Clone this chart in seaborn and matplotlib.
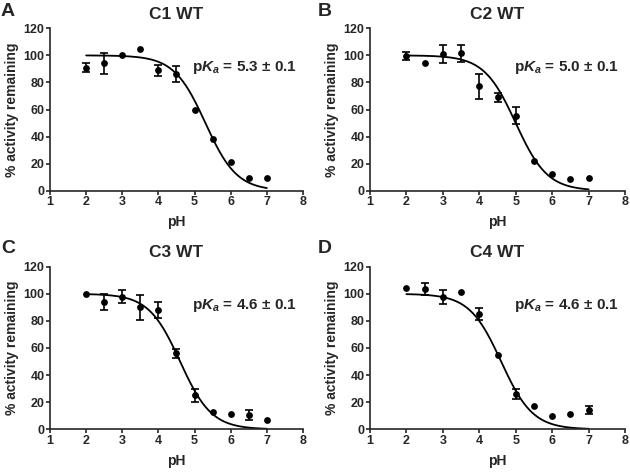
import numpy as np
import seaborn as sns
import matplotlib.pyplot as plt

sns.set_style('ticks')
plt.rcParams['font.family'] = ['Liberation Sans', 'DejaVu Sans']
plt.rcParams['font.weight'] = 'bold'
plt.rcParams['mathtext.fontset'] = 'custom'
plt.rcParams['mathtext.it'] = 'Liberation Sans:italic:bold'
plt.rcParams['mathtext.rm'] = 'Liberation Sans:bold'

ph = [2, 2.5, 3, 3.5, 4, 4.5, 5, 5.5, 6, 6.5, 7]

# values
c1_act = [91, 94, 100, 104.5, 89, 86, 59.5, 38.5, 21, 9.5, 9.5]
c1_err = [3, 8, 0, 0, 4, 6, 0, 0, 0, 0, 0]
c2_act = [99.5, 94, 101, 101.5, 77, 69, 55.5, 22, 12, 8.5, 9.5]
c2_err = [3, 0, 6.5, 6.5, 9.5, 3.5, 6, 0, 0, 0, 0]
c3_act = [100, 94, 98, 90, 88, 56, 25, 12.5, 11.5, 10.5, 7]
c3_err = [0, 6, 5, 9, 6, 3.5, 5, 0, 0, 3.5, 0]
c4_act = [104, 103.5, 97.5, 101, 85, 54.5, 26, 17, 9.5, 11, 14]
c4_err = [0, 4.5, 5, 0, 4.5, 0, 4, 0, 0, 0, 3]

titles = ['C1 WT', 'C2 WT', 'C3 WT', 'C4 WT']
letters = ['A', 'B', 'C', 'D']
pkas = [5.3, 5.0, 4.6, 4.6]
pka_labels = ['5.3 ± 0.1', '5.0 ± 0.1', '4.6 ± 0.1', '4.6 ± 0.1']
acts = [c1_act, c2_act, c3_act, c4_act]
errs = [c1_err, c2_err, c3_err, c4_err]

fig = plt.figure(figsize=(6.3, 4.72), dpi=100)
W, H = 630, 472
# axes boxes in pixels: left, right, y0 (bottom), y120 (top)
boxes = [(50, 303, 190.7, 28.3), (370, 625, 190.7, 28.3),
         (50, 303, 429.3, 266.7), (370, 625, 429.3, 266.7)]
letter_pos = [(1, 3), (318, 3), (1, 240), (318, 240)]

for i in range(4):
    l, r, yb, yt = boxes[i]
    ax = fig.add_axes([l / W, 1 - yb / H, (r - l) / W, (yb - yt) / H])
    x = np.array(ph)
    y = np.array(acts[i])
    e = np.array(errs[i])
    # fitted curve (Hill slope 1, top 100, bottom 0)
    xs = np.linspace(2, 7, 200)
    ys = 100 / (1 + 10 ** (xs - pkas[i]))
    sns.lineplot(x=xs, y=ys, ax=ax, color='black', lw=1.3)
    m = e > 0
    ax.errorbar(x[m], y[m], yerr=e[m], fmt='none', ecolor='black',
                elinewidth=1.2, capsize=3, capthick=1.2)
    sns.scatterplot(x=x, y=y, ax=ax, color='black', s=24, edgecolor='black',
                    linewidth=0, zorder=3)
    ax.set_xlim(1, 8)
    ax.set_ylim(0, 120)
    ax.set_xticks(range(1, 9))
    ax.set_yticks(range(0, 121, 20))
    ax.tick_params(labelsize=9, width=1.2, length=3, pad=1)
    for lab in ax.get_xticklabels() + ax.get_yticklabels():
        lab.set_fontweight('bold')
    for s in ['left', 'bottom']:
        ax.spines[s].set_linewidth(1.2)
    sns.despine(ax=ax)
    ax.set_xlabel('pH', fontsize=10, fontweight='bold', labelpad=5)
    ax.set_ylabel('% activity remaining', fontsize=10, fontweight='bold', labelpad=3)
    ax.set_title(titles[i], fontsize=12.5, fontweight='bold', pad=7)
    ax.text(0.975, 0.76, 'p$K_a$ = ' + pka_labels[i], transform=ax.transAxes,
            ha='right', va='center', fontsize=11, fontweight='bold')
    lx, ly = letter_pos[i]
    fig.text(lx / W, 1 - ly / H, letters[i], fontsize=14, fontweight='bold',
             ha='left', va='top')

fig.savefig('out.png', dpi=100)
